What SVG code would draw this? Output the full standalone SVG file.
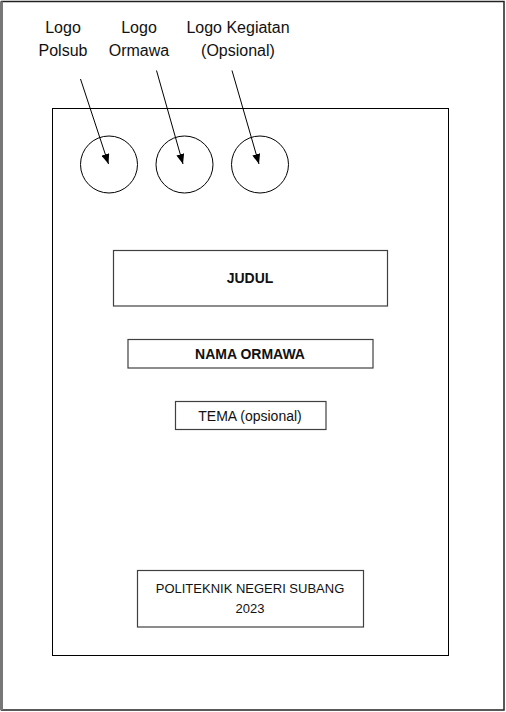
<svg xmlns="http://www.w3.org/2000/svg" width="506" height="712" viewBox="0 0 506 712">
<defs>
<marker id="ah" viewBox="0 0 10 8" refX="10" refY="4" markerWidth="10" markerHeight="8" markerUnits="userSpaceOnUse" orient="auto">
<path d="M0,0 L10,4 L0,8 Z" fill="#000"/>
</marker>
</defs>
<style>
.lbl{font-family:"Liberation Sans",Arial,sans-serif;font-size:16px;fill:#111;text-anchor:middle}
.box{fill:#fff;stroke:#404040;stroke-width:1.2}
.t{font-family:"Liberation Sans",Arial,sans-serif;font-size:14px;fill:#111;text-anchor:middle}
.b{font-weight:bold}
.circ{fill:#fff;stroke:#000;stroke-width:1}
.conn{stroke:#000;stroke-width:1;fill:none;marker-end:url(#ah)}
</style>
<rect x="0" y="0" width="506" height="712" fill="#fff"/>
<g id="page">
<rect x="1.5" y="1.5" width="502.5" height="708.5" fill="none" stroke="#222" stroke-width="1.5"/>
<line x1="1.5" y1="1.5" x2="1.5" y2="710" stroke="#777" stroke-width="3"/>
</g>
<g id="cover">
<rect x="52.5" y="108.5" width="396" height="547" fill="none" stroke="#000" stroke-width="1"/>
</g>
<g id="label-polsub">
<text class="lbl" x="63" y="33">Logo</text>
<text class="lbl" x="63" y="56">Polsub</text>
</g>
<g id="label-ormawa">
<text class="lbl" x="139" y="33">Logo</text>
<text class="lbl" x="139" y="56">Ormawa</text>
</g>
<g id="label-kegiatan">
<text class="lbl" x="238" y="33">Logo Kegiatan</text>
<text class="lbl" x="238" y="56">(Opsional)</text>
</g>
<g id="logo-polsub"><circle class="circ" cx="109" cy="164.5" r="28.5"/></g>
<g id="logo-ormawa"><circle class="circ" cx="184.5" cy="164.5" r="28.5"/></g>
<g id="logo-kegiatan"><circle class="circ" cx="260" cy="164.5" r="28.5"/></g>
<g id="connectors">
<line class="conn" x1="80.5" y1="79" x2="108.5" y2="164"/>
<line class="conn" x1="156.5" y1="70.5" x2="183" y2="164"/>
<line class="conn" x1="232" y1="70.5" x2="259" y2="164"/>
</g>
<g id="judul">
<rect class="box" x="113.5" y="250.5" width="274" height="55.5"/>
<text class="t b" x="250" y="283">JUDUL</text>
</g>
<g id="nama-ormawa">
<rect class="box" x="128" y="339.5" width="245" height="28.5"/>
<text class="t b" x="250" y="359">NAMA ORMAWA</text>
</g>
<g id="tema">
<rect class="box" x="175.5" y="401.5" width="150.5" height="28"/>
<text class="t" x="250" y="420.5">TEMA (opsional)</text>
</g>
<g id="politeknik">
<rect class="box" x="137.5" y="570.5" width="226" height="56.5"/>
<text class="t" x="250" y="593" style="font-size:13px">POLITEKNIK NEGERI SUBANG</text>
<text class="t" x="250" y="613" style="font-size:13px">2023</text>
</g>
</svg>
